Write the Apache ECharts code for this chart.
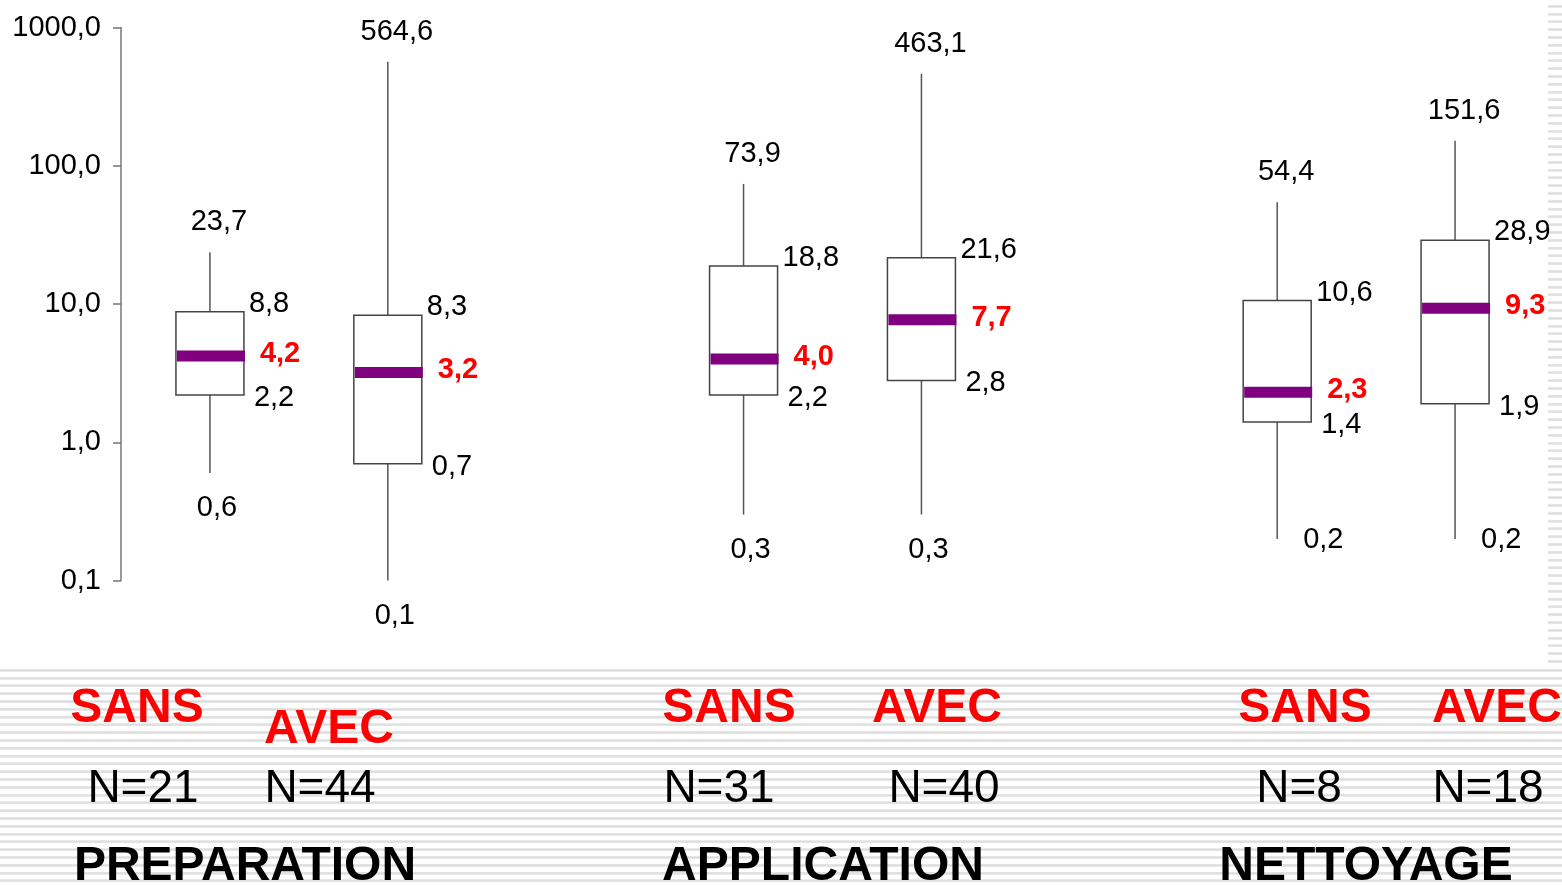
<!DOCTYPE html>
<html>
<head>
<meta charset="utf-8">
<script src="https://cdn.jsdelivr.net/npm/echarts@6/dist/echarts.min.js"></script>
<style>
  html, body { margin: 0; padding: 0; background: #fff; }
  #wrap { position: relative; width: 1562px; height: 885px; overflow: hidden; }
  .stripes { position: absolute;
    background: repeating-linear-gradient(to bottom, #fff 0px, #fff 4.8px, #ebebeb 4.8px, #dcdcdc 6.3px, #ebebeb 7.8px); }
  #bottomStripes { left: 0; top: 664px; width: 1562px; height: 221px; }
  #rightStripes { left: 1548px; top: 0; width: 14px; height: 664px; }
  #chart { position: absolute; left: 0; top: 0; width: 1562px; height: 885px; }
</style>
</head>
<body>
<div id="wrap">
  <div class="stripes" id="bottomStripes"></div>
  <div class="stripes" id="rightStripes"></div>
  <div id="chart"></div>
</div>
<script>
var groups = ['PREPARATION', 'APPLICATION', 'NETTOYAGE'];
var conditions = ['SANS', 'AVEC'];
var yTicks = [0.1, 1, 10, 100, 1000];

// une boite par groupe x condition (SANS, AVEC)
var minVals = [0.6, 0.1, 0.3, 0.3, 0.2, 0.2];
var q1Vals = [2.2, 0.7, 2.2, 2.8, 1.4, 1.9];
var medVals = [4.2, 3.2, 4.0, 7.7, 2.3, 9.3];
var q3Vals = [8.8, 8.3, 18.8, 21.6, 10.6, 28.9];
var maxVals = [23.7, 564.6, 73.9, 463.1, 54.4, 151.6];
var nVals = [21, 44, 31, 40, 8, 18];

var FONT = "'Liberation Sans', Arial, sans-serif";

function fr(v) {
    return v.toFixed(1).replace('.', ',');
}

// axe x : 2 boites par groupe + un vide entre les groupes
var xCats = [];
groups.forEach(function (g, gi) {
    conditions.forEach(function (c) { xCats.push(g + ' ' + c); });
    if (gi < groups.length - 1) xCats.push(' '.repeat(gi + 1));
});

var boxData = [];
for (var i = 0; i < medVals.length; i++) {
    var gi = Math.floor(i / 2);
    boxData.push([gi * 3 + (i % 2), minVals[i], q1Vals[i], medVals[i], q3Vals[i], maxVals[i], i]);
}

function renderBox(params, api) {
    var x = api.value(0);
    var idx = api.value(6);
    var pMin = api.coord([x, api.value(1)]);
    var pQ1 = api.coord([x, api.value(2)]);
    var pMed = api.coord([x, api.value(3)]);
    var pQ3 = api.coord([x, api.value(4)]);
    var pMax = api.coord([x, api.value(5)]);
    var cx = pMed[0];
    var w = 68;
    var l = cx - w / 2, r = cx + w / 2;
    var lineStyle = { stroke: '#555', lineWidth: 1.5 };
    var txt = { fill: '#000', font: '29px ' + FONT };
    var beside = Math.floor(idx / 2) === 2; // les min de NETTOYAGE sont ecrits a cote
    function label(text, tx, ty, align, style) {
        return {
            type: 'text', z2: 10,
            style: Object.assign({ text: text, x: tx, y: ty, align: align, verticalAlign: 'middle' }, style)
        };
    }
    return {
        type: 'group',
        children: [
            { type: 'line', shape: { x1: cx, y1: pMax[1], x2: cx, y2: pQ3[1] }, style: lineStyle },
            { type: 'line', shape: { x1: cx, y1: pQ1[1], x2: cx, y2: pMin[1] }, style: lineStyle },
            { type: 'rect', shape: { x: l, y: pQ3[1], width: w, height: pQ1[1] - pQ3[1] },
              style: { fill: '#fff', stroke: '#444', lineWidth: 1.5 } },
            { type: 'line', shape: { x1: l + 1, y1: pMed[1], x2: r + 1, y2: pMed[1] },
              style: { stroke: '#800080', lineWidth: 11 } },
            label(fr(api.value(5)), cx + 9, pMax[1] - 30, 'center', txt),
            label(fr(api.value(4)), r + 5, pQ3[1] - 8, 'left', txt),
            label(fr(api.value(3)), r + 16, pMed[1] - 2, 'left',
                  { fill: '#ff0000', font: 'bold 29px ' + FONT }),
            label(fr(api.value(2)), r + 10, pQ1[1] + 3, 'left', txt),
            beside
                ? label(fr(api.value(1)), r - 8, pMin[1] + 1, 'left', txt)
                : label(fr(api.value(1)), cx + 7, pMin[1] + 35, 'center', txt)
        ]
    };
}

// textes du bas (placement comme sur la diapo)
var condPos = [[137, 709], [329, 730], [729, 709], [937, 709], [1305, 709], [1497, 709]];
var nPos = [[143, 789], [320, 789], [719, 789], [944, 789], [1299, 789], [1488, 789]];
var groupPos = [[245, 867], [823, 867], [1366, 867]];

var graphics = [];
for (var k = 0; k < nVals.length; k++) {
    graphics.push({ type: 'text', x: condPos[k][0], y: condPos[k][1],
        style: { text: conditions[k % 2], fill: '#ff0000', font: 'bold 48px ' + FONT,
                 align: 'center', verticalAlign: 'middle' } });
    graphics.push({ type: 'text', x: nPos[k][0], y: nPos[k][1],
        style: { text: 'N=' + nVals[k], fill: '#000', font: '46px ' + FONT,
                 align: 'center', verticalAlign: 'middle' } });
}
groups.forEach(function (g, gi) {
    graphics.push({ type: 'text', x: groupPos[gi][0], y: groupPos[gi][1],
        style: { text: g, fill: '#000', font: 'bold 48px ' + FONT,
                 align: 'center', verticalAlign: 'middle' } });
});

var myChart = echarts.init(document.getElementById('chart'), null, { renderer: 'canvas' });
var option = {
    animation: false,
    backgroundColor: 'transparent',
    grid: { left: 121, right: 18, top: 27.5, bottom: 304.5, containLabel: false },
    xAxis: {
        type: 'category',
        data: xCats,
        boundaryGap: true,
        show: false
    },
    yAxis: {
        type: 'log',
        logBase: 10,
        min: yTicks[0],
        max: yTicks[yTicks.length - 1],
        axisLine: { show: true, lineStyle: { color: '#777', width: 1.5 } },
        axisTick: { show: true, length: 8, inside: false, lineStyle: { color: '#777', width: 1.5 } },
        splitLine: { show: false },
        minorTick: { show: false },
        axisLabel: {
            margin: 20,
            color: '#000',
            fontSize: 29,
            fontFamily: FONT,
            formatter: function (v) { return fr(v); }
        }
    },
    series: [{
        type: 'custom',
        clip: false,
        renderItem: renderBox,
        encode: { x: 0, y: [1, 2, 3, 4, 5] },
        data: boxData
    }],
    graphic: graphics
};
myChart.setOption(option);
</script>
</body>
</html>
